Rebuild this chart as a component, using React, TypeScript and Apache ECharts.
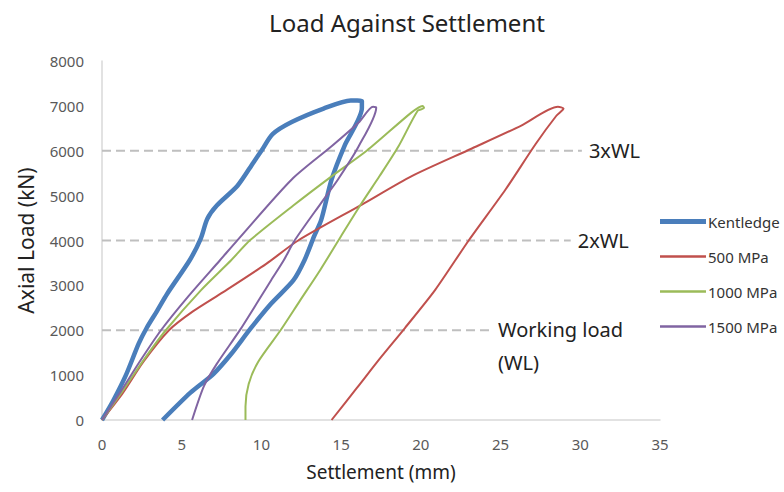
import React, { useEffect, useRef } from "react";
import * as echarts from "echarts";

const title = "Load Against Settlement";
const xName = "Settlement (mm)";
const yName = "Axial Load (kN)";

const kentledge: number[][] = [
  [0, 0], [0.7, 430], [1.5, 1000], [2.3, 1700], [2.8, 2050], [3.4, 2400], [4.1, 2820], [5.5, 3560],
  [6.2, 4050], [6.6, 4480], [7.2, 4780], [8.5, 5220], [9.5, 5740], [10.0, 6000], [10.7, 6370],
  [11.9, 6640], [13.9, 6940], [15.6, 7120], [16.3, 7110], [16.3, 6950], [15.2, 6100], [14.4, 5360],
  [13.75, 4460], [13.3, 4090], [12.7, 3560], [12.0, 3110], [10.6, 2590], [9.3, 2030], [8.1, 1470],
  [7.0, 1030], [5.55, 610], [3.8, 0],
];

const mpa500: number[][] = [
  [0, 0], [1.3, 600], [2.6, 1300], [4.2, 2000], [5.7, 2420], [7.6, 2850], [10.3, 3480], [12.3, 4000],
  [16.3, 4800], [19.4, 5430], [23.2, 6050], [26.3, 6560], [28.6, 6980], [28.95, 6940], [28.5, 6780],
  [27.2, 6150], [25.3, 5130], [23.0, 4000], [20.9, 2900], [19.0, 2050], [17.5, 1400], [16.0, 720], [14.4, 0],
];

const mpa1000: number[][] = [
  [0, 0], [1.3, 650], [2.6, 1330], [4.0, 2000], [6.2, 2890], [8.1, 3560], [9.3, 4010], [12.0, 4780],
  [14.4, 5430], [16.6, 6000], [19.4, 6850], [20.1, 7000], [20.2, 6950], [19.8, 6890], [18.6, 6100],
  [17.4, 5430], [16.3, 4840], [15.0, 4100], [13.7, 3350], [12.4, 2650], [11.2, 2000], [9.8, 1300],
  [9.2, 800], [9.0, 300], [9.0, 0],
];

const mpa1500: number[][] = [
  [0, 0], [1.2, 650], [2.4, 1320], [3.7, 2000], [5.4, 2750], [7.4, 3560], [8.5, 4010], [11.9, 5360],
  [14.4, 6100], [16.1, 6630], [17.0, 6980], [17.2, 6960], [16.1, 6100], [14.8, 5360], [13.75, 4840],
  [12.1, 4010], [11.4, 3560], [10.6, 3110], [8.7, 2030], [7.2, 1250], [6.4, 760], [5.65, 0],
];

const refLines: { name: string; value: number; end: number; label: string }[] = [
  { name: "3xWL", value: 6000, end: 30.1, label: "3xWL" },
  { name: "2xWL", value: 4000, end: 29.4, label: "2xWL" },
  { name: "WL", value: 2000, end: 24.4, label: "Working load\n(WL)" },
];

const curveNames = ["Kentledge", "500 MPa", "1000 MPa", "1500 MPa"];
const curveColors = ["#4a7ebb", "#c0504d", "#9bbb59", "#8064a2"];
const curveData = [kentledge, mpa500, mpa1000, mpa1500];
const curveWidths = [4.5, 2, 2, 2];

export default function App() {
  const ref = useRef<HTMLDivElement>(null);
  useEffect(() => {
    if (!ref.current) return;
    const chart = echarts.init(ref.current, null, { renderer: "svg" });
    const font = "Noto Sans";
    const dashed = refLines.map((r) => ({
      name: r.name,
      type: "line",
      data: [[0, r.value], [r.end, r.value]],
      showSymbol: false,
      symbol: "none",
      silent: true,
      lineStyle: { color: "#bfbfbf", width: 2, type: [9, 5] },
      endLabel: {
        show: true,
        formatter: r.label,
        color: "#222",
        fontSize: 20,
        fontFamily: font,
        distance: 7,
        lineHeight: 33,
        offset: r.name === "WL" ? [0, 16] : [0, 0],
      },
      z: 1,
    }));
    const curves = curveNames.map((n, i) => ({
      name: n,
      type: "line",
      data: curveData[i],
      showSymbol: false,
      symbol: "none",
      smooth: 0.25,
      lineStyle: { color: curveColors[i], width: curveWidths[i] },
      itemStyle: { color: curveColors[i] },
      z: 3,
    }));
    chart.setOption({
      animation: false,
      backgroundColor: "#ffffff",
      title: {
        text: title,
        left: 402,
        textAlign: "center",
        top: 5,
        textStyle: { fontFamily: font, fontSize: 24, fontWeight: "normal", color: "#222" },
      },
      legend: {
        data: curveNames.map((n, i) => ({
          name: n,
          icon: i === 0 ? "path://M0,0H46V5H0Z" : "path://M0,0H46V2.5H0Z",
        })),
        orient: "vertical",
        left: 655,
        top: 209,
        itemWidth: 46,
        itemHeight: 16,
        itemGap: 20,
        textStyle: { fontFamily: font, fontSize: 15, color: "#333", padding: [0, 0, 0, -3] },
      },
      grid: { left: 102, right: 124, top: 61, bottom: 72, containLabel: false },
      xAxis: {
        type: "value",
        min: 0,
        max: 35,
        interval: 5,
        name: xName,
        nameLocation: "middle",
        nameGap: 42,
        nameTextStyle: { fontFamily: font, fontSize: 19, color: "#222" },
        axisLine: { show: true, lineStyle: { color: "#d9d9d9", width: 1.5 } },
        axisTick: { show: false },
        splitLine: { show: false },
        axisLabel: { fontFamily: font, fontSize: 15, color: "#595959", margin: 16 },
      },
      yAxis: {
        type: "value",
        min: 0,
        max: 8000,
        interval: 1000,
        name: yName,
        nameLocation: "middle",
        nameGap: 66,
        nameTextStyle: { fontFamily: font, fontSize: 21, color: "#222", padding: [0, 0, 0, 0] },
        axisLine: { show: true, lineStyle: { color: "#d9d9d9", width: 1.5 } },
        axisTick: { show: false },
        splitLine: { show: false },
        axisLabel: {
          fontFamily: font,
          fontSize: 15,
          color: "#595959",
          margin: 18,
          formatter: (v: number) => String(v),
        },
      },
      series: [...dashed, ...curves],
    });
    return () => chart.dispose();
  }, []);
  return <div ref={ref} style={{ width: 784, height: 492, position: "absolute", left: 0, top: 0 }} />;
}
